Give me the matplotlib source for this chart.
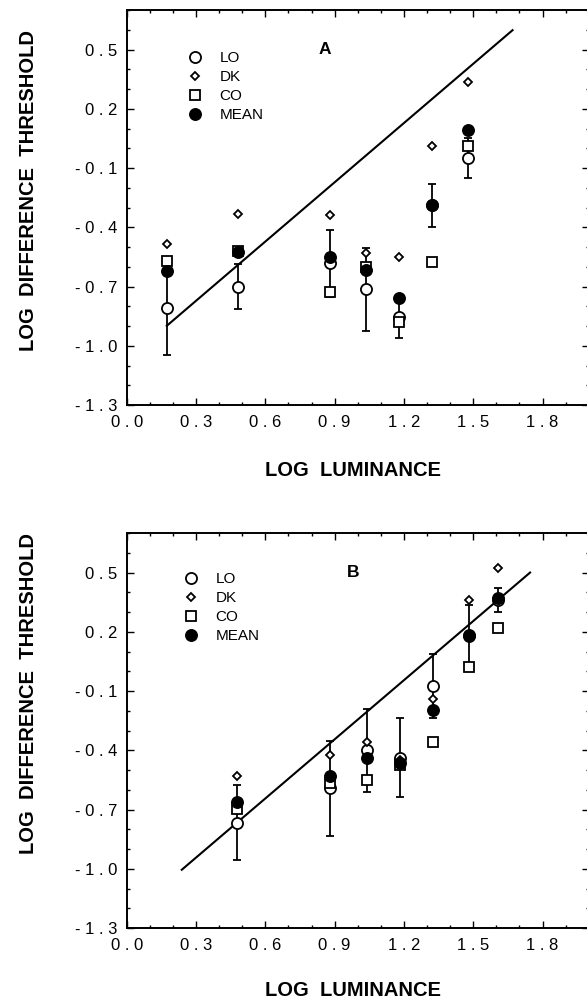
import numpy as np
import matplotlib
matplotlib.use("Agg")
from matplotlib import pyplot as plt
from matplotlib.ticker import FixedLocator, MultipleLocator

plt.rcParams['font.family'] = ['Liberation Sans', 'DejaVu Sans']

# panel A data (log luminance, log difference threshold)
a_x = [0.176, 0.48, 0.88, 1.036, 1.178, 1.323, 1.478]
a_lo = [-0.81, -0.70, -0.582, -0.713, -0.852, -0.289, -0.049]
a_lo_err = [0.235, 0.115, 0.17, 0.21, 0.11, 0.11, 0.10]
a_dk = [-0.485, -0.335, -0.337, -0.528, -0.548, 0.01, 0.334]
a_co = [-0.573, -0.52, -0.729, -0.599, -0.882, -0.577, 0.01]
a_mean = [-0.62, -0.525, -0.553, -0.615, -0.759, -0.289, 0.091]
a_line_x = [0.173, 1.670]
a_line_y = [-0.899, 0.598]

# panel B data
b_x = [0.479, 0.88, 1.039, 1.183, 1.327, 1.481, 1.608]
b_lo = [-0.767, -0.592, -0.40, -0.439, -0.074, 0.185, 0.362]
b_lo_err = [0.19, 0.24, 0.21, 0.20, 0.16, 0.15, 0.062]
b_dk = [-0.529, -0.422, -0.358, -0.45, -0.142, 0.359, 0.525]
b_co = [-0.699, -0.567, -0.55, -0.477, -0.358, 0.024, 0.218]
b_mean = [-0.660, -0.529, -0.439, -0.465, -0.196, 0.181, 0.373]
b_line_x = [0.238, 1.746]
b_line_y = [-1.005, 0.50]

xticks = [0.0, 0.3, 0.6, 0.9, 1.2, 1.5, 1.8]
xtick_labels = ["0 . 0", "0 . 3", "0 . 6", "0 . 9", "1 . 2", "1 . 5", "1 . 8"]
yticks = [-1.3, -1.0, -0.7, -0.4, -0.1, 0.2, 0.5]
ytick_labels = ["- 1 . 3", "- 1 . 0", "- 0 . 7", "- 0 . 4", "- 0 . 1", "0 . 2", "0 . 5"]


def panel(ax, x, lo, lo_err, dk, co, mean, lx, ly, letter, lx_pos, leg_xy, ylab_y, xlab_y):
    ax.plot(lx, ly, color="black", lw=1.5, zorder=1)
    ax.errorbar(x, lo, yerr=lo_err, fmt="none", ecolor="black", elinewidth=1.3,
                capsize=3, capthick=1.3, zorder=2)
    ax.plot(x, lo, "o", ms=8, mfc="white", mec="black", mew=1.3, ls="none",
            label="LO", zorder=3)
    ax.plot(x, dk, "D", ms=3.6, mfc="white", mec="black", mew=1.3, ls="none",
            label="DK", zorder=4)
    ax.plot(x, co, "s", ms=7.8, mfc="white", mec="black", mew=1.3, ls="none",
            label="CO", zorder=4)
    ax.plot(x, mean, "o", ms=8.3, mfc="black", mec="black", ls="none",
            label="MEAN", zorder=5)

    ax.set_xlim(0.0, 2.0)
    ax.set_ylim(-1.3, 0.7)
    ax.xaxis.set_major_locator(FixedLocator(xticks))
    ax.set_xticklabels(xtick_labels)
    ax.xaxis.set_minor_locator(MultipleLocator(0.1))
    ax.yaxis.set_major_locator(FixedLocator(yticks))
    ax.set_yticklabels(ytick_labels)
    ax.yaxis.set_minor_locator(MultipleLocator(0.1))
    ax.tick_params(which="both", direction="in", top=True, right=True,
                   width=1.0, labelsize=12)
    ax.tick_params(which="major", length=5)
    ax.tick_params(which="minor", length=2.5)
    ax.tick_params(axis="x", which="major", pad=7)
    ax.tick_params(axis="y", which="major", pad=7)
    for s in ax.spines.values():
        s.set_linewidth(1.4)

    ax.set_xlabel("LOG  LUMINANCE", fontsize=14.5, fontweight="bold")
    ax.xaxis.set_label_coords(0.49, xlab_y)
    ax.set_ylabel("LOG  DIFFERENCE  THRESHOLD", fontsize=14.5, fontweight="bold")
    ax.yaxis.set_label_coords(-0.192, ylab_y)
    ax.text(lx_pos, 0.9, letter, transform=ax.transAxes, fontsize=12.5,
            fontweight="bold", ha="center", va="center")
    ax.legend(loc="upper left", bbox_to_anchor=leg_xy, frameon=False,
              fontsize=11, handlelength=1.0, handletextpad=1.1,
              labelspacing=0.33, borderpad=0, numpoints=1)


fig = plt.figure(figsize=(5.87, 10.05), dpi=100)
ax1 = fig.add_axes([0.216, 0.597, 0.787, 0.393])
ax2 = fig.add_axes([0.216, 0.0766, 0.787, 0.393])

panel(ax1, a_x, a_lo, a_lo_err, a_dk, a_co, a_mean, a_line_x, a_line_y, "A", 0.429,
      (0.115, 0.915), 0.542, -0.143)
panel(ax2, b_x, b_lo, b_lo_err, b_dk, b_co, b_mean, b_line_x, b_line_y, "B", 0.49,
      (0.106, 0.92), 0.595, -0.135)

fig.savefig("out.png", dpi=100)
